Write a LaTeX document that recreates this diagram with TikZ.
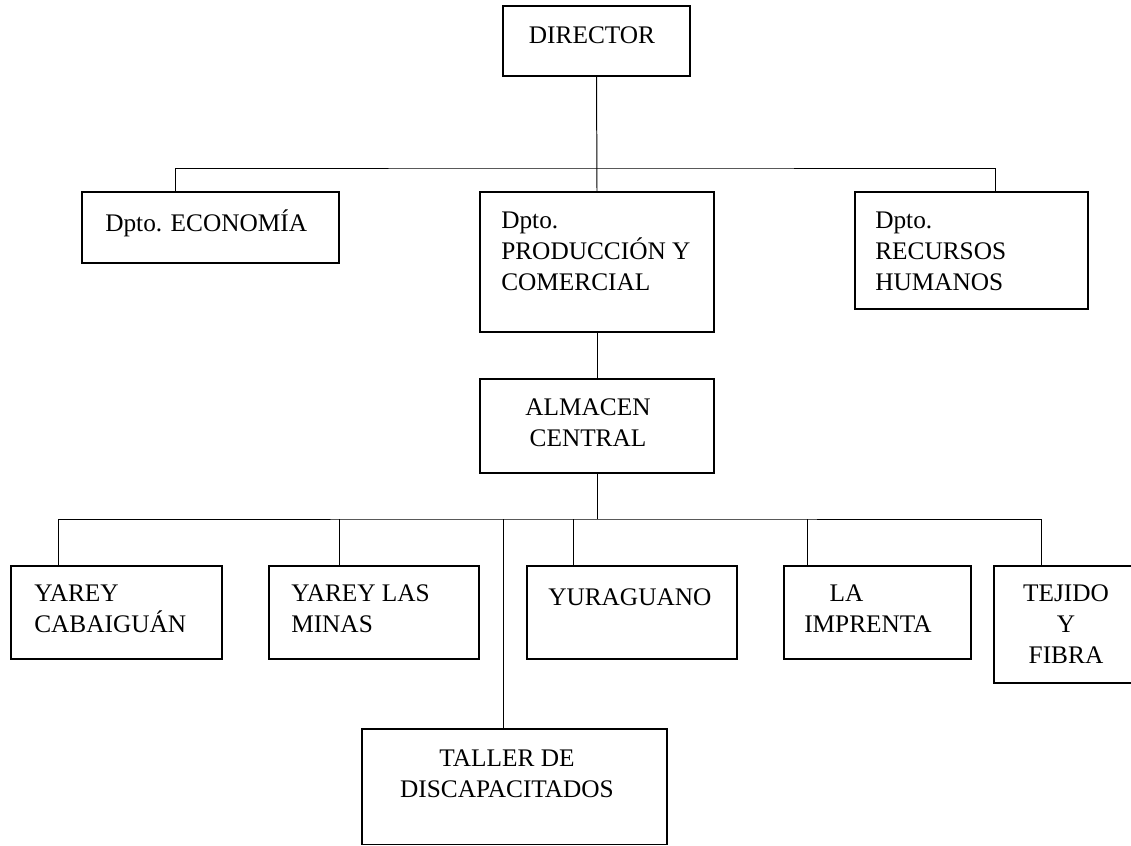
\documentclass[tikz,border=0pt]{standalone}
\usepackage{fontspec}
\setmainfont{Liberation Serif}
\usetikzlibrary{fit}

\begin{document}
\begin{tikzpicture}[x=0.025cm,y=-0.025cm,
	orgbox/.style={draw,line width=1pt,inner sep=0pt,rectangle},
	conn/.style={line width=0.7pt},
	lbl/.style={inner sep=0pt,font=\fontsize{18}{22}\selectfont}]
	\useasboundingbox (0,0) rectangle (1131,846);
	
	%boxes
	\node[orgbox,fit={(503,6) (690,76)}]     (dir)  {};
	\node[orgbox,fit={(82,192) (339,263)}]   (eco)  {};
	\node[orgbox,fit={(480,192) (714,332)}]  (prod) {};
	\node[orgbox,fit={(855,192) (1088,309)}] (rrhh) {};
	\node[orgbox,fit={(480,379) (714,473)}]  (alm)  {};
	\node[orgbox,fit={(11,566) (222,659)}]   (yc)   {};
	\node[orgbox,fit={(269,566) (479,659)}]  (ylm)  {};
	\node[orgbox,fit={(527,566) (737,659)}]  (yur)  {};
	\node[orgbox,fit={(784,566) (971,659)}]  (imp)  {};
	\node[orgbox,fit={(994,566) (1140,683)}] (tej)  {};
	\node[orgbox,fit={(362,729) (667,844.5)}] (tal) {};
	
	%entry points
	\coordinate (bus-top) at (597,168);
	\coordinate (eco-in)  at (175,192);
	\coordinate (rrhh-in) at (995,192);
	\coordinate (bus-low) at (597,519);
	\coordinate (yc-in)   at (58,566);
	\coordinate (ylm-in)  at (339,566);
	\coordinate (yur-in)  at (573,566);
	\coordinate (imp-in)  at (807,566);
	\coordinate (tej-in)  at (1041,566);
	\coordinate (tal-in)  at (503,729);
	
	%lines
	\draw[conn] (dir.south) -- (prod.north);
	\draw[conn] (eco-in) |- (bus-top) -| (rrhh-in);
	\draw[conn] (prod.south) -- (alm.north);
	\draw[conn] (alm.south) -- (bus-low);
	\draw[conn] (yc-in) |- (bus-low) -| (tej-in);
	\draw[conn] (ylm-in) -- (ylm-in |- bus-low);
	\draw[conn] (yur-in) -- (yur-in |- bus-low);
	\draw[conn] (imp-in) -- (imp-in |- bus-low);
	\draw[conn] (tal-in) -- (tal-in |- bus-low);
	
	%labels (anchored on the baseline of the last line)
	\node[lbl,anchor=base] (dir-t) at (592,44) {DIRECTOR};
	\node[lbl,anchor=base west] (eco-t) at (105,232) {Dpto. ECONOMÍA};
	\node[lbl,anchor=base west,align=left] (prod-t) at (501,290) {Dpto.\\PRODUCCIÓN Y\\COMERCIAL};
	\node[lbl,anchor=base west,align=left] (rrhh-t) at (875,290) {Dpto.\\RECURSOS\\HUMANOS};
	\node[lbl,anchor=base,align=center] (alm-t) at (588,446) {ALMACEN\\CENTRAL};
	\node[lbl,anchor=base west,align=left] (yc-t) at (34,632) {YAREY\\CABAIGUÁN};
	\node[lbl,anchor=base west,align=left] (ylm-t) at (291,632) {YAREY LAS\\MINAS};
	\node[lbl,anchor=base west] (yur-t) at (548,605) {YURAGUANO};
	\node[lbl,anchor=base west,align=left] (imp-t) at (804,632) {\hspace*{1em}LA\\IMPRENTA};
	\node[lbl,anchor=base,align=center] (tej-t) at (1066,663) {TEJIDO\\Y\\FIBRA};
	\node[lbl,anchor=base,align=center] (tal-t) at (507,797) {TALLER DE\\DISCAPACITADOS};
	
	%\draw[help lines] (0,0) grid (1131,846);
\end{tikzpicture}
\end{document}
